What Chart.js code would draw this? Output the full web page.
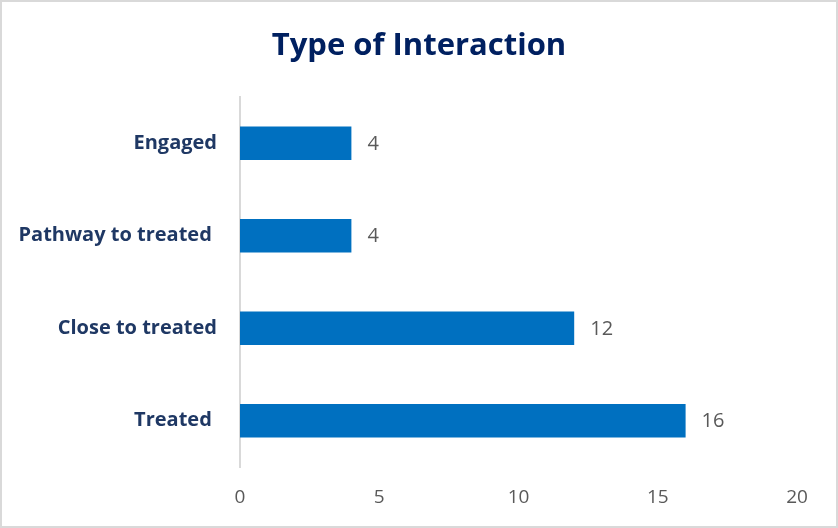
<!DOCTYPE html>
<html>
<head>
<meta charset="utf-8">
<script src="https://cdn.jsdelivr.net/npm/chart.js@4/dist/chart.umd.min.js"></script>
<style>
  html, body { margin: 0; padding: 0; background: #fff; }
  #wrap {
    width: 838px;
    height: 528px;
    box-sizing: border-box;
    border: 2px solid #d9d9d9;
    background: #fff;
  }
  canvas { display: block; }
</style>
</head>
<body>
<div id="wrap"><canvas id="chart" width="834" height="524"></canvas></div>
<script>
const categories = ["Engaged", "Pathway to treated ", "Close to treated", "Treated "];
const counts = [4, 4, 12, 16];
const xTicks = [0, 5, 10, 15, 20];
const chartTitle = "Type of Interaction";

// title centred across the whole canvas, not just the plot area
const centredTitle = {
  id: "centredTitle",
  afterDraw(chart) {
    const ctx = chart.ctx;
    ctx.save();
    ctx.font = "bold 31px 'Open Sans'";
    ctx.fillStyle = "#002060";
    ctx.textAlign = "center";
    ctx.textBaseline = "alphabetic";
    ctx.fillText(chartTitle, chart.width / 2, 53);
    ctx.restore();
  },
};

// value labels to the right of each bar
const barLabels = {
  id: "barLabels",
  afterDatasetsDraw(chart) {
    const ctx = chart.ctx;
    const meta = chart.getDatasetMeta(0);
    ctx.save();
    ctx.font = "20px 'Open Sans'";
    ctx.fillStyle = "#595959";
    ctx.textAlign = "left";
    ctx.textBaseline = "middle";
    meta.data.forEach((bar, i) => {
      ctx.fillText(String(counts[i]), bar.x + 16, bar.y + 1);
    });
    ctx.restore();
  },
};

addEventListener("load", () => {
  const ctx = document.querySelector("#chart").getContext("2d");
  new Chart(ctx, {
    type: "bar",
    data: {
      labels: categories,
      datasets: [
        {
          data: counts,
          backgroundColor: "#0070c0",
          borderWidth: 0,
          categoryPercentage: 1,
          barPercentage: 0.36,
        },
      ],
    },
    options: {
      indexAxis: "y",
      responsive: false,
      animation: false,
      layout: {
        padding: { top: 95, right: 39, bottom: 0, left: 0 },
      },
      plugins: {
        legend: { display: false },
        tooltip: { enabled: false },
        title: { display: false },
      },
      scales: {
        x: {
          min: 0,
          max: 20,
          afterBuildTicks(scale) {
            scale.ticks = xTicks.map((v) => ({ value: v }));
          },
          grid: { display: false },
          border: { display: false },
          ticks: {
            color: "#595959",
            font: { family: "Open Sans", size: 19 },
            padding: 11,
          },
          afterFit(scale) {
            scale.height = 59;
          },
        },
        y: {
          grid: { display: false },
          border: { display: true, color: "#d9d9d9", width: 2 },
          ticks: {
            color: "#1f3864",
            font: { family: "Open Sans", size: 20, weight: "bold" },
            padding: 15,
          },
          afterFit(scale) {
            scale.width = 238;
          },
        },
      },
    },
    plugins: [barLabels, centredTitle],
  });
});
</script>
</body>
</html>
